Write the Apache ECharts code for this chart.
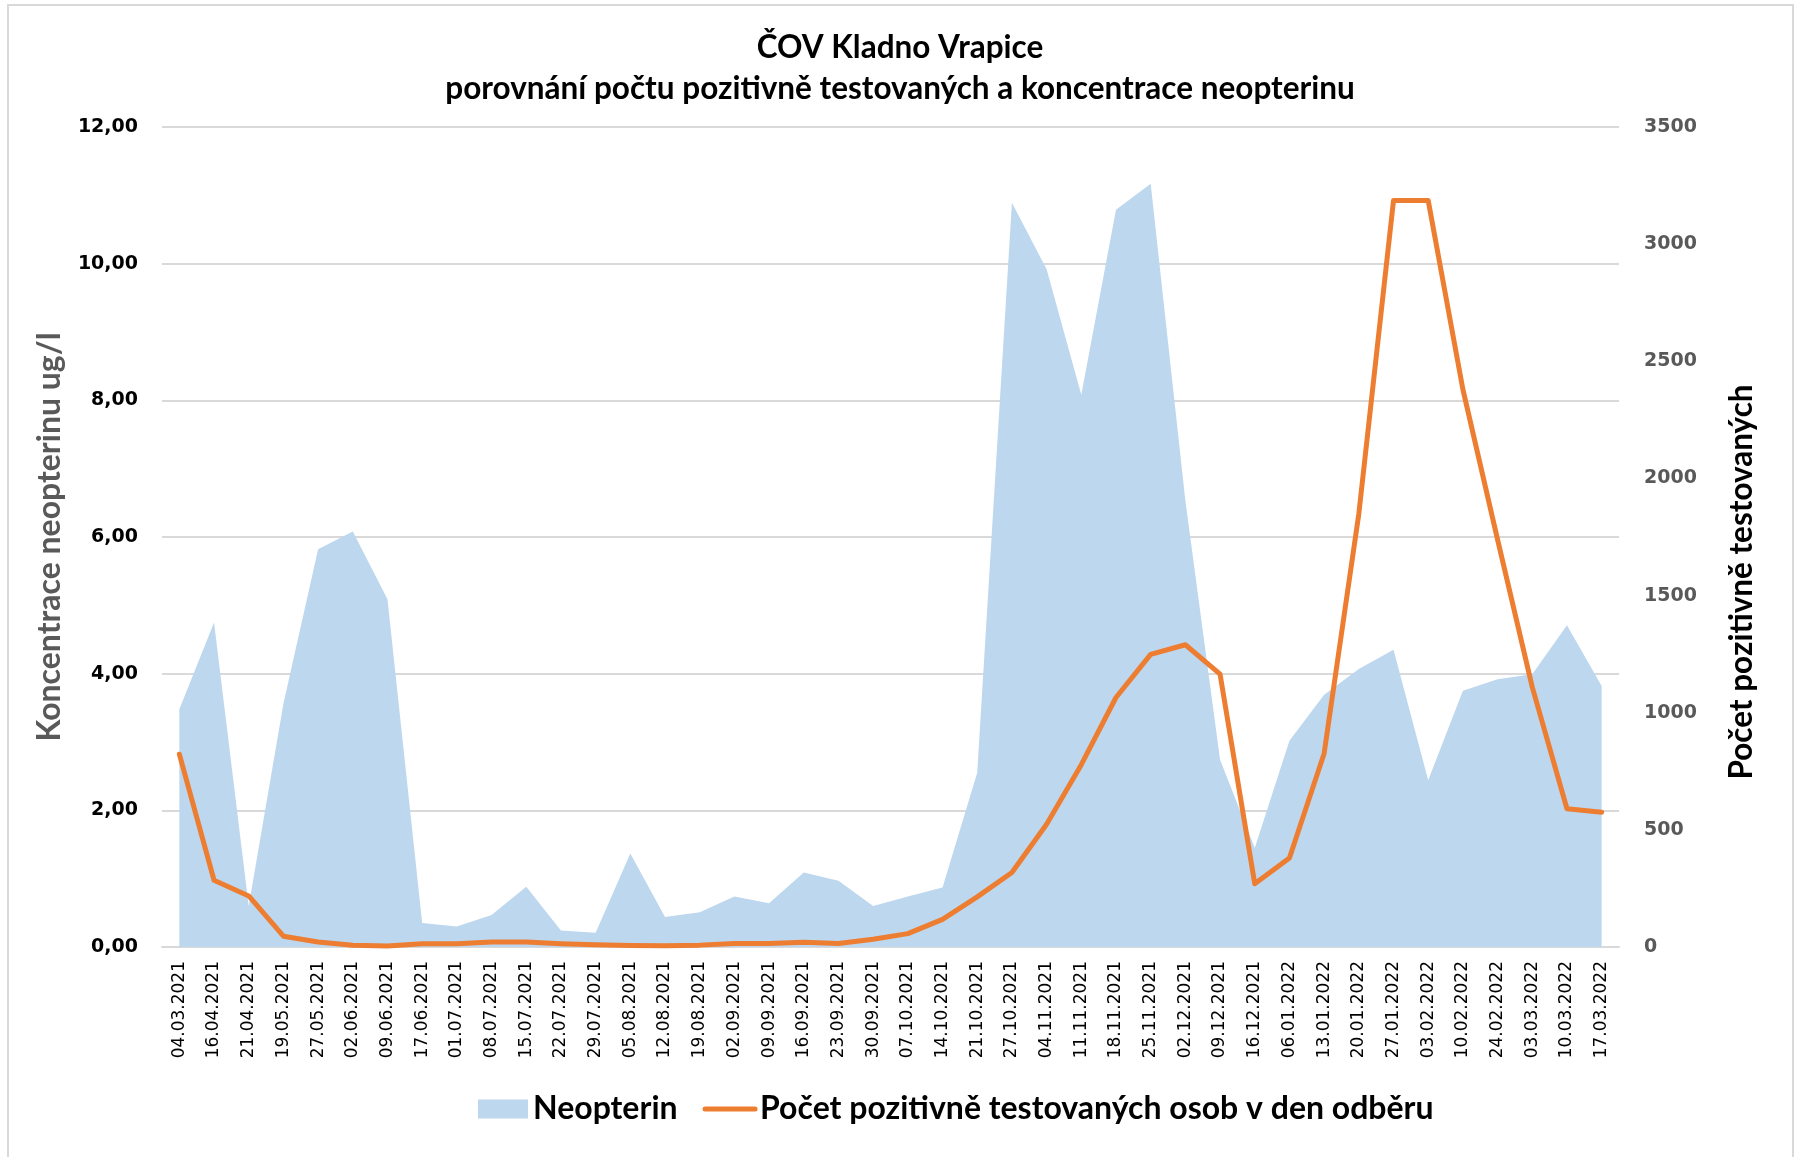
<!DOCTYPE html>
<html style="height: 100%">
	<head>
		<meta charset="utf-8">
	</head>
	<body style="height: 100%; margin: 0">
		<div id="container" style="width: 1800px; height: 1157px"></div>

		<script type="text/javascript" src="https://cdn.jsdelivr.net/npm/echarts@6.0.0/dist/echarts.min.js"></script>
		<script type="text/javascript">
			var dom = document.getElementById("container");
			var myChart = echarts.init(dom);
			var option;

			// datum odberu
			const dates = [
				'04.03.2021', '16.04.2021', '21.04.2021', '19.05.2021', '27.05.2021', '02.06.2021',
				'09.06.2021', '17.06.2021', '01.07.2021', '08.07.2021', '15.07.2021', '22.07.2021',
				'29.07.2021', '05.08.2021', '12.08.2021', '19.08.2021', '02.09.2021', '09.09.2021',
				'16.09.2021', '23.09.2021', '30.09.2021', '07.10.2021', '14.10.2021', '21.10.2021',
				'27.10.2021', '04.11.2021', '11.11.2021', '18.11.2021', '25.11.2021', '02.12.2021',
				'09.12.2021', '16.12.2021', '06.01.2022', '13.01.2022', '20.01.2022', '27.01.2022',
				'03.02.2022', '10.02.2022', '24.02.2022', '03.03.2022', '10.03.2022', '17.03.2022'
			];
			// koncentrace neopterinu ug/l
			const neopterin = [
				3.48, 4.75, 0.60, 3.56, 5.82, 6.08,
				5.09, 0.35, 0.30, 0.47, 0.88, 0.24,
				0.21, 1.37, 0.44, 0.51, 0.74, 0.64,
				1.09, 0.97, 0.60, 0.74, 0.87, 2.55,
				10.89, 9.92, 8.08, 10.79, 11.17, 6.53,
				2.74, 1.45, 3.02, 3.69, 4.07, 4.35,
				2.44, 3.75, 3.92, 3.99, 4.71, 3.82
			];
			// pocet pozitivne testovanych osob v den odberu
			const positive = [
				823, 285, 218, 46, 21, 7,
				4, 14, 14, 21, 21, 14,
				10, 6, 5, 8, 15, 15,
				20, 15, 33, 57, 118, 214,
				318, 524, 778, 1065, 1249, 1290,
				1165, 270, 380, 826, 1849, 3186,
				3186, 2380, 1739, 1109, 590, 575
			];

			const seriesNames = ['Neopterin', 'Počet pozitivně testovaných osob v den odběru'];

			option = {
				backgroundColor: '#ffffff',
				animation: false,
				title: {
					text: 'ČOV Kladno Vrapice\nporovnání počtu pozitivně testovaných a koncentrace neopterinu',
					left: 'center',
					top: 27,
					padding: 0,
					textStyle: {
						fontFamily: 'Lato',
						fontWeight: 'bold',
						fontSize: 31.5,
						lineHeight: 41,
						color: '#000000'
					}
				},
				graphic: [{
					type: 'rect',
					shape: { x: 8, y: 5, width: 1785, height: 1162 },
					style: { fill: 'none', stroke: '#d9d9d9', lineWidth: 2 },
					silent: true
				}],
				legend: {
					left: 478,
					top: 1093,
					padding: 0,
					itemGap: 25,
					itemWidth: 50,
					itemHeight: 19,
					textStyle: {
						fontFamily: 'Lato',
						fontWeight: 'bold',
						fontSize: 32,
						color: '#000000'
					},
					data: [
						{ name: seriesNames[0], icon: 'rect', itemStyle: { color: '#bdd7ee' } },
						// jen cara, bez kolecka
						{
							name: seriesNames[1],
							itemStyle: { color: 'rgba(0,0,0,0)', opacity: 0, borderWidth: 0 },
							lineStyle: { width: 5, color: '#ed7d31', cap: 'round' }
						}
					]
				},
				grid: {
					left: 162,
					right: 181,
					top: 127,
					bottom: 210
				},
				xAxis: {
					type: 'category',
					data: dates,
					boundaryGap: true,
					axisTick: { show: false },
					axisLine: { lineStyle: { color: '#d9d9d9', width: 2 } },
					axisLabel: {
						interval: 0,
						rotate: 90,
						margin: 14,
						fontFamily: 'DejaVu Sans',
						fontSize: 17,
						color: '#000000'
					}
				},
				yAxis: [{
						type: 'value',
						min: 0,
						max: 12,
						interval: 2,
						name: 'Koncentrace neopterinu ug/l',
						nameLocation: 'middle',
						nameRotate: 90,
						nameGap: 96,
						nameTextStyle: {
							fontFamily: 'Lato',
							fontWeight: 'bold',
							fontSize: 32,
							color: '#595959'
						},
						axisLine: { show: false },
						axisTick: { show: false },
						axisLabel: {
							margin: 24,
							fontFamily: 'DejaVu Sans',
							fontWeight: 'bold',
							fontSize: 19,
							color: '#000000',
							formatter: function(v) {
								return v.toFixed(2).replace('.', ',');
							}
						},
						splitLine: { lineStyle: { color: '#d9d9d9', width: 2 } }
					},
					{
						type: 'value',
						min: 0,
						max: 3500,
						interval: 500,
						position: 'right',
						name: 'Počet pozitivně testovaných',
						nameLocation: 'middle',
						nameRotate: 90,
						nameGap: 107,
						nameTextStyle: {
							fontFamily: 'Lato',
							fontWeight: 'bold',
							fontSize: 31.5,
							color: '#000000',
							padding: [0, 90, 0, 0]
						},
						axisLine: { show: false },
						axisTick: { show: false },
						axisLabel: {
							margin: 25,
							fontFamily: 'DejaVu Sans',
							fontWeight: 'bold',
							fontSize: 19,
							color: '#595959',
							formatter: function(v) {
								return String(v);
							}
						},
						splitLine: { show: false }
					}
				],
				series: [{
						name: seriesNames[0],
						type: 'line',
						yAxisIndex: 0,
						data: neopterin,
						symbol: 'none',
						lineStyle: { width: 0, color: '#bdd7ee' },
						itemStyle: { color: '#bdd7ee' },
						areaStyle: { color: '#bdd7ee', opacity: 1 },
						z: 1
					},
					{
						name: seriesNames[1],
						type: 'line',
						yAxisIndex: 1,
						data: positive,
						symbol: 'none',
						lineStyle: { width: 5, color: '#ed7d31', cap: 'round', join: 'round' },
						itemStyle: { color: '#ed7d31' },
						z: 3
					}
				]
			};

			if (option && typeof option === 'object') {
				myChart.setOption(option);
			}
		</script>
	</body>
</html>
